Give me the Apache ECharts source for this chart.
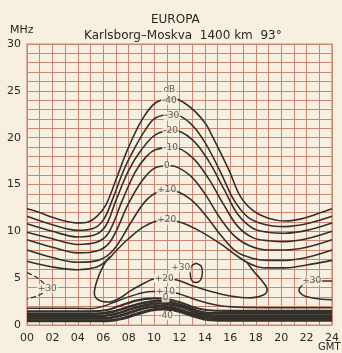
<!DOCTYPE html>
<html><head><meta charset="utf-8">
<script src="https://cdn.jsdelivr.net/npm/echarts@6/dist/echarts.min.js"></script>
<style>html,body{margin:0;padding:0;background:#f7f0e1;}#c{width:342px;height:353px;}</style>
</head><body><div id="c"></div>
<script>
// Hours (GMT) and frequency (MHz) pairs.
const xTicks = ['00','02','04','06','08','10','12','14','16','18','20','22','24'];
const yTicks = [0,5,10,15,20,25,30];

// Upper (MUF side) contours, dB
const upM40 = [[0,12.4],[1,12.0],[2,11.5],[3,11.1],[4,10.9],[4.8,11.0],[5.5,11.6],[6.2,12.8],[7.0,15.5],[7.9,18.7],[9.0,21.8],[10.1,23.7],[11.5,24.2],[12.8,23.3],[14.0,21.6],[14.6,20.1],[15.9,16.5],[16.8,13.7],[17.8,12.2],[19,11.4],[20.3,11.1],[21.5,11.3],[22.5,11.7],[24,12.4]];
const upM30 = [[0,11.6],[2,10.7],[4,10.1],[5.2,10.3],[6.0,11.2],[6.7,13.3],[7.6,16.5],[8.4,18.7],[9.3,20.8],[10.1,22.1],[11.5,22.5],[12.8,21.6],[14.0,19.5],[15.2,16.4],[16.3,13.3],[17.4,11.5],[18.8,10.7],[20.3,10.5],[22,10.8],[24,11.6]];
const upM20 = [[0,10.8],[2,10.0],[4,9.4],[5.3,9.6],[6.2,10.6],[7.0,13.3],[8.0,16.5],[9.0,18.7],[10.1,20.3],[11.5,20.8],[13,19.8],[14.3,17.5],[15.5,14.5],[16.6,11.8],[17.8,10.3],[19,9.9],[20.3,9.8],[22,10.1],[24,10.9]];
const upM10 = [[0,9.9],[2,9.2],[4,8.6],[5.4,8.8],[6.4,9.8],[7.5,13.3],[8.5,16.3],[9.4,18.0],[10.1,18.7],[11.5,19.0],[13,17.9],[14.3,15.6],[15.5,12.8],[16.6,10.5],[17.8,9.3],[19,9.0],[20.3,8.9],[22,9.2],[24,10.0]];
const up0 = [[0,9.1],[2,8.3],[4,7.7],[5.5,7.9],[6.6,9.0],[8.0,13.0],[9.0,15.3],[10.1,16.8],[11.3,17.0],[12.8,16.0],[14.0,14.0],[15.2,11.4],[16.4,9.4],[17.6,8.4],[19,8.0],[20.3,8.0],[22,8.3],[24,9.1]];
const upP10 = [[0,8.0],[2,7.2],[4,6.7],[5.6,6.9],[6.8,8.0],[8.2,11.0],[9.3,13.2],[10.3,14.2],[11.3,14.4],[12.8,13.5],[14.0,11.8],[15.3,9.5],[16.5,7.8],[17.8,7.1],[19,6.9],[20.3,6.9],[22,7.2],[24,8.0]];
const upP20 = [[0,6.8],[2,6.2],[4,5.9],[5.5,6.2],[6.3,6.9],[7.0,7.9],[7.9,9.1],[9.2,10.5],[10.6,11.2],[12,11.0],[13.5,10.1],[15.3,8.6],[16.3,7.6],[17.3,6.7],[18.2,6.2],[19,6.1],[20.3,6.1],[22,6.4],[24,6.9]];
// +20 dB loop below (daytime)
const loopP20 = [[6.5,7.3],[6.0,6.3],[5.5,4.7],[5.3,3.4],[5.6,2.7],[6.4,2.45],[7.2,2.8],[8.2,3.7],[9.4,4.6],[10.3,5.0],[11.8,4.8],[13.0,4.2],[14.4,3.6],[16.0,3.1],[17.6,2.9],[18.6,3.2],[18.9,3.8],[18.5,4.7],[17.8,5.8],[17.3,6.7]];
// +30 dB islands
const isl30a = [[0,5.6],[0.6,5.2],[1.2,4.6],[1.5,4.0],[1.2,3.4],[0.6,3.0],[0,2.8]];
const isl30b = [[13.3,6.6],[13.7,6.3],[13.8,5.6],[13.65,4.8],[13.3,4.55],[12.95,4.8],[12.85,5.6],[12.95,6.3],[13.3,6.6]];
const isl30c = [[24,4.7],[22.9,4.7],[22.2,4.6],[21.7,4.3],[21.4,3.7],[21.7,3.2],[22.4,2.9],[23.2,2.75],[24,2.7]];
// Lower (LUF side) contours
const loP10 = [[0,1.8],[3,1.8],[5,1.75],[6.0,2.0],[6.8,2.4],[8.0,3.0],[9.3,3.5],[10.6,3.6],[11.8,3.4],[13.3,2.7],[15.0,2.1],[16.6,1.9],[20,1.85],[24,1.85]];
const lo0 = [[0,1.45],[5,1.45],[6.3,1.6],[7.2,2.0],[8.6,2.6],[10.0,2.85],[11.1,2.75],[12.1,2.4],[13.1,1.9],[14.1,1.6],[15.6,1.5],[24,1.5]];
const loM10 = [[0,1.2],[5.3,1.2],[6.7,1.4],[7.7,1.8],[9.1,2.35],[10.3,2.55],[11.4,2.4],[12.4,2.0],[13.4,1.5],[14.6,1.25],[24,1.25]];
const loM20 = [[0,0.95],[5.7,0.95],[7.0,1.2],[8.2,1.7],[9.4,2.15],[10.5,2.3],[11.6,2.1],[12.6,1.7],[13.6,1.2],[14.9,1.0],[24,1.0]];
const loM30 = [[0,0.7],[6.0,0.7],[7.2,0.95],[8.5,1.5],[9.6,1.9],[10.6,2.0],[11.6,1.8],[12.8,1.3],[13.9,0.9],[15.1,0.75],[24,0.75]];
const loM40 = [[0,0.45],[6.3,0.45],[7.5,0.7],[8.7,1.2],[9.8,1.6],[10.8,1.7],[11.9,1.5],[13.0,1.0],[14.1,0.6],[15.6,0.5],[24,0.5]];

// Contour labels [hour, MHz, text]
const curveLabels = [
  [11.2,25.1,'dB'],[11.2,24.0,'-40'],[11.4,22.3,'-30'],[11.3,20.7,'-20'],[11.3,18.9,'-10'],[11.0,17.0,'0'],[11.0,14.4,'+10'],[11.0,11.2,'+20'],
  [12.1,6.1,'+30'],[10.8,5.0,'+20'],[10.9,3.6,'+10'],[10.9,2.9,'0'],[10.9,1.0,'-40'],
  [1.6,3.9,'+30'],[22.4,4.7,'+30']
];

const ink = '#34302c';
const gridCol = '#cc8475';
const font = 'DejaVu Sans';

function line(data, w, dashed) {
  return {type:'line', data:data, smooth:0.35, symbol:'none', silent:true,
    lineStyle:{color:ink, width:w||1.6, type:dashed?'dashed':'solid'}, z:3};
}

const chart = echarts.init(document.getElementById('c'), null, {renderer:'canvas'});
chart.setOption({
  backgroundColor:'#f7f0e1',
  animation:false,
  title:[
    {text:'EUROPA', left:146, top:9, textStyle:{fontFamily:font, fontSize:12, fontWeight:'normal', color:'#2a2623'}},
    {text:'Karlsborg\u2013Moskva  1400 km  93\u00b0', left:79, top:25, textStyle:{fontFamily:font, fontSize:12, fontWeight:'normal', color:'#2a2623'}}
  ],
  graphic:[
    {type:'text', left:10, top:25, style:{text:'MHz', font:'11px "DejaVu Sans"', fill:'#2a2623'}},
    {type:'text', left:318, top:342, style:{text:'GMT', font:'10px "DejaVu Sans"', fill:'#2a2623'}}
  ],
  grid:{left:27, right:7, top:44, bottom:28, show:true, borderColor:gridCol, borderWidth:1.2},
  xAxis:{type:'value', min:0, max:24, interval:1,
    axisLine:{show:false}, axisTick:{show:false},
    splitLine:{show:true, lineStyle:{color:gridCol, width:1}},
    axisLabel:{margin:8, fontFamily:font, fontSize:11, color:'#2a2623',
      formatter:function(v){return v%2===0 ? xTicks[v/2] : '';}}
  },
  yAxis:{type:'value', min:0, max:30, interval:1,
    axisLine:{show:false}, axisTick:{show:false},
    splitLine:{show:true, lineStyle:{color:gridCol, width:1}},
    axisLabel:{margin:6, fontFamily:font, fontSize:11, color:'#2a2623',
      formatter:function(v){return yTicks.indexOf(v)>=0 ? String(v) : '';}}
  },
  series:[
    line(upM40),line(upM30),line(upM20),line(upM10),line(up0),line(upP10),line(upP20),
    line(loopP20),
    line(isl30a,1.3,true),line(isl30b,1.5),line(isl30c,1.5),
    line(loP10,1.5),line(lo0,2.2),line(loM10,2.6),line(loM20,2.6),line(loM30,2.8),line(loM40,3),
    {type:'scatter', data:curveLabels.map(function(d){return {value:[d[0],d[1]], name:d[2]};}),
      symbolSize:0, silent:true, z:5,
      label:{show:true, position:'inside', formatter:'{b}', fontFamily:font, fontSize:9, color:'#3a3430',
        backgroundColor:'#f7f0e1', padding:[0,1]}}
  ]
});
</script></body></html>
